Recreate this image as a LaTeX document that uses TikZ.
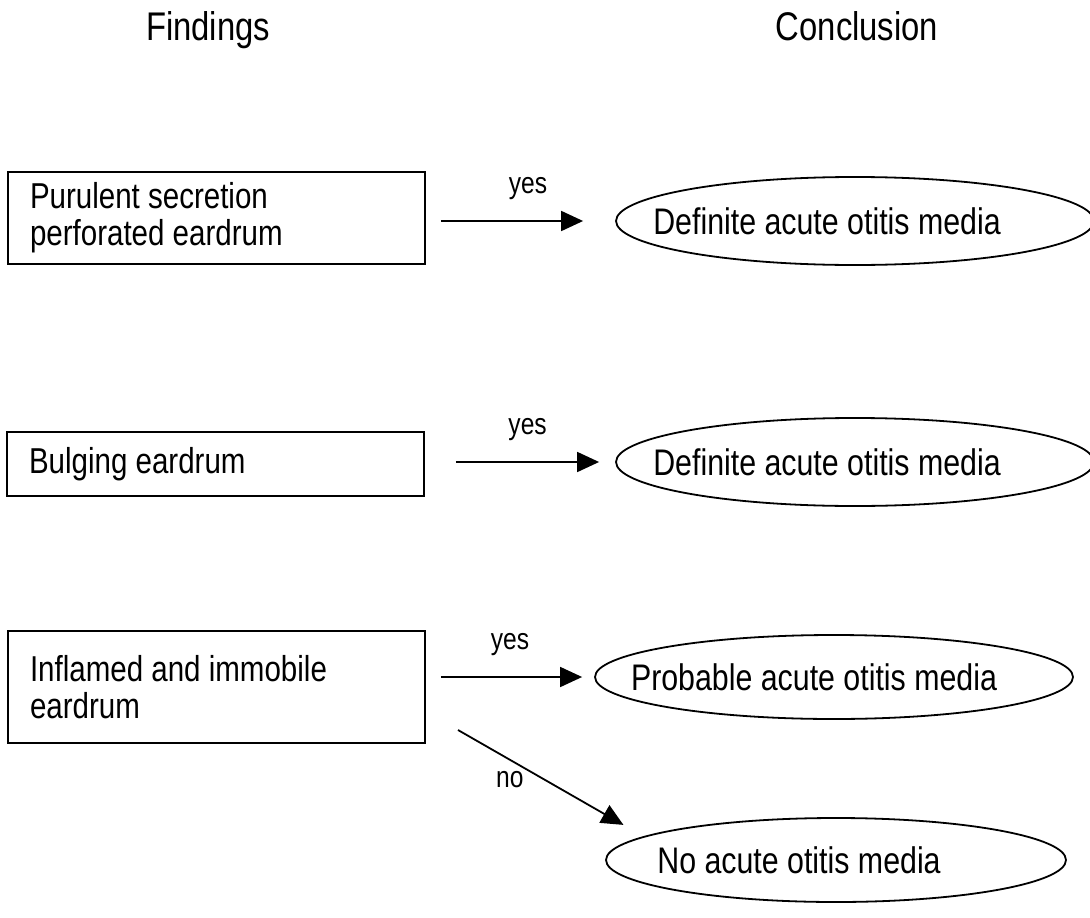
\documentclass[tikz,border=0pt]{standalone}
\usepackage{fontspec}
\setmainfont{Liberation Sans}[FakeStretch=0.82]
\usetikzlibrary{shapes.geometric,arrows.meta}

\tikzset{
  title/.style={anchor=base,inner sep=0,font=\fontsize{40}{40}\selectfont},
  finding/.style={draw,rectangle,line width=1.8pt,align=flush left,text width=373pt,inner xsep=22pt,font=\fontsize{36}{37}\selectfont},
  outcome/.style={draw,ellipse,line width=1.8pt,inner sep=0,minimum width=478pt,minimum height=88pt},
  otext/.style={xshift=-28pt,inner sep=0,font=\fontsize{37}{37}\selectfont},
  conn/.style={line width=1.8pt,-{Triangle[length=22pt,width=20pt]}},
  ans/.style={anchor=base,inner sep=0,font=\fontsize{30}{30}\selectfont},
}

\begin{document}
\begin{tikzpicture}[x=1pt,y=-1pt]
        \useasboundingbox (0,0) rectangle (1090,918);

        \node[title] (find) at (208,40) {Findings};
        \node[title] (conc) at (857,40) {Conclusion};

        \node[finding,minimum height=92pt]  (f1) at (216.5,218) {Purulent secretion\\perforated eardrum};
        \node[finding,minimum height=64pt]  (f2) at (215.5,464) {Bulging eardrum};
        \node[finding,minimum height=112pt] (f3) at (216.5,687) {Inflamed and immobile\\eardrum};

        \node[outcome,label={[otext]center:Definite acute otitis media}] (c1) at (855,221) {};
        \node[outcome,label={[otext]center:Definite acute otitis media}] (c2) at (855,462) {};
        \node[outcome,minimum width=478pt,minimum height=84pt,label={[otext,xshift=8pt]center:Probable acute otitis media}] (c3) at (834,677) {};
        \node[outcome,minimum width=460pt,minimum height=84pt,label={[otext,xshift=-9pt]center:No acute otitis media}] (c4) at (836,860) {};
        \coordinate (nostart) at (458,730);

        \draw[conn,shorten <=15pt,shorten >=32pt] (f1.east |- c1) -- (c1.west) node[ans,pos=.54,yshift=28pt] {yes};
        \draw[conn,shorten <=31pt,shorten >=16pt] (f2.east |- c2) -- (c2.west) node[ans,pos=.54,yshift=28pt] {yes};
        \draw[conn,shorten <=15pt,shorten >=12pt] (f3.east |- c3) -- (c3.west) node[ans,pos=.5,yshift=28pt] {yes};
        \draw[conn,shorten >=23pt] (nostart) -- (c4.173) node[ans,pos=.28,yshift=-28pt] {no};
    \end{tikzpicture}
\end{document}
